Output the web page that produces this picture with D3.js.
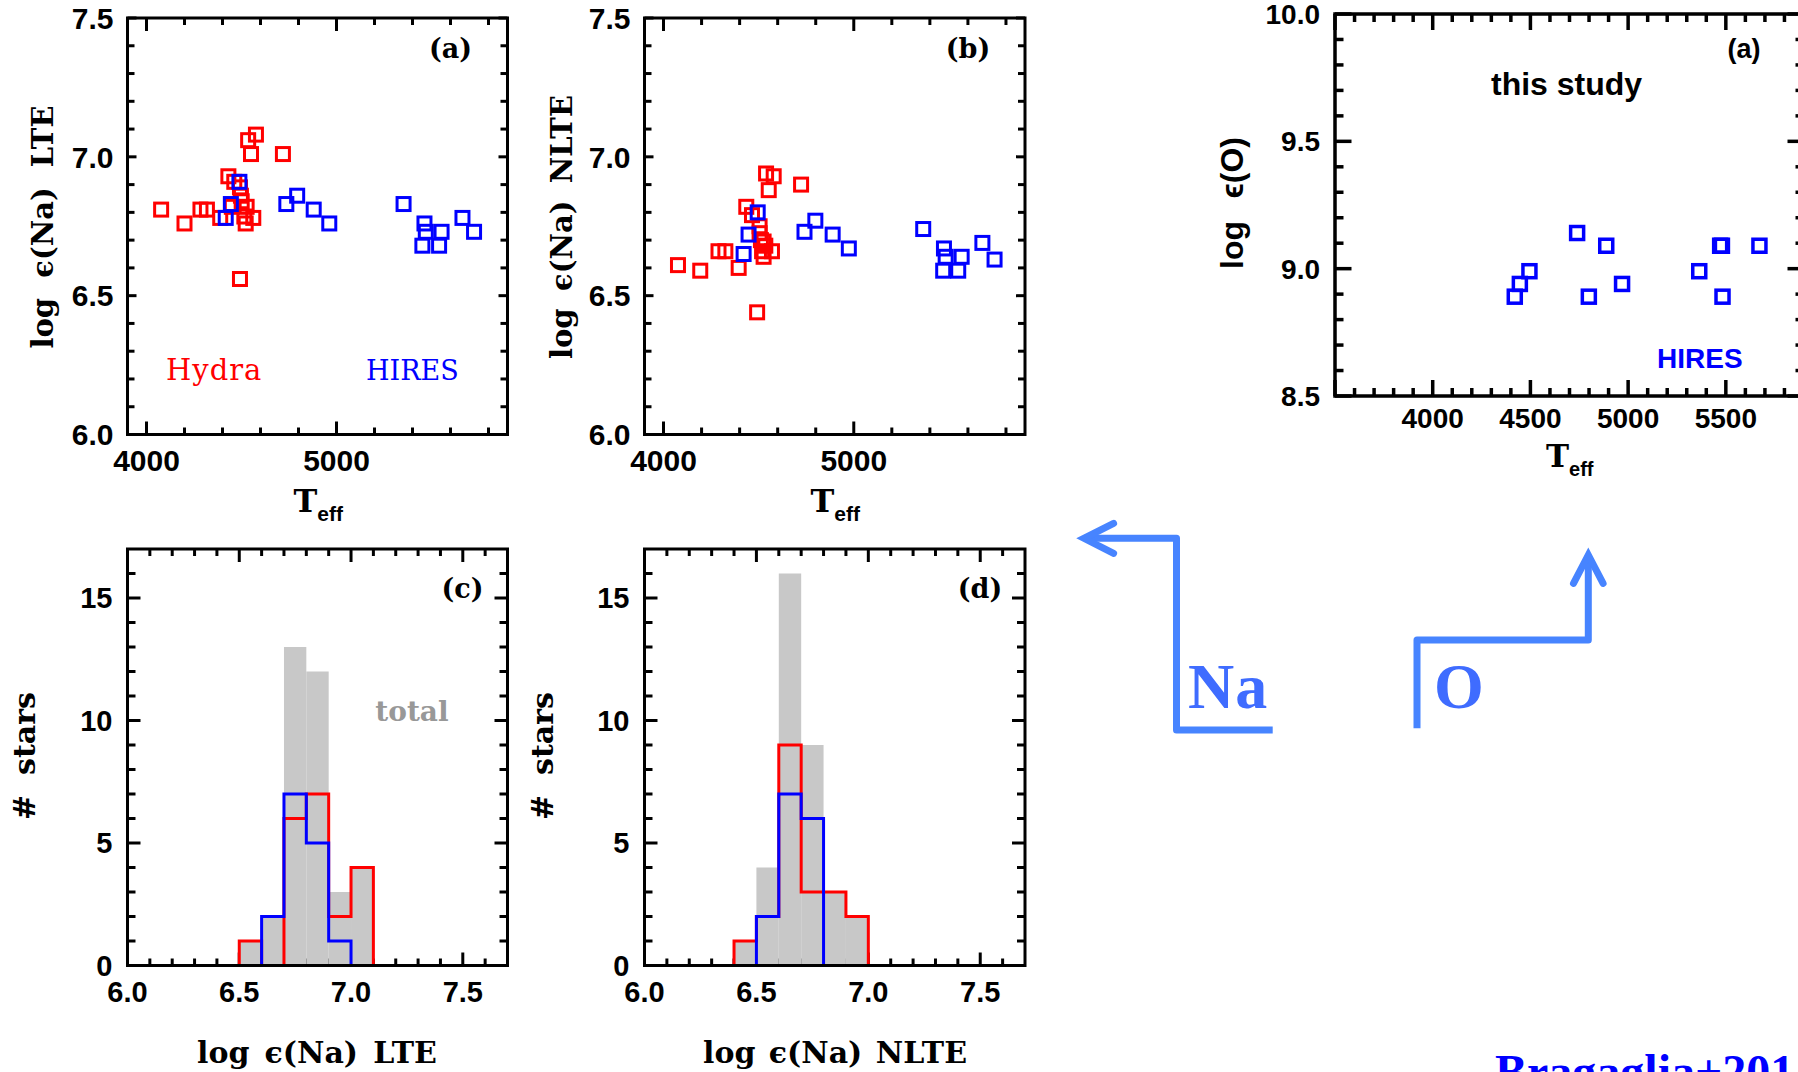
<!DOCTYPE html>
<html><head><meta charset="utf-8">
<script src="https://cdn.jsdelivr.net/npm/d3@7"></script>
<style>body{margin:0;background:#fff;} svg{display:block}</style>
</head><body>
<svg id="c" width="1798" height="1072"></svg>
<script>
// ---------------- DATA ----------------
const hydraTeffLTE = [4077,4200,4284,4318,4388,4431,4449,4462,4492,4497,4501,4527,4515,4522,4562,4492,4535,4576,4550,4718];
const hydraNaLTE   = [6.81,6.76,6.81,6.81,6.78,6.93,6.82,6.91,6.89,6.86,6.84,6.82,6.785,6.76,6.78,6.56,7.06,7.08,7.01,7.01];
const hiresTeffLTE = [4417,4444,4489,4736,4793,4880,4962,5353,5463,5470,5452,5540,5553,5663,5724];
const hiresNaLTE   = [6.78,6.83,6.91,6.83,6.86,6.81,6.76,6.83,6.76,6.73,6.68,6.68,6.73,6.78,6.73];

const hydraTeffNLTE = [4076,4193,4289,4325,4395,4435,4465,4505,4505,4526,4518,4570,4526,4535,4512,4492,4539,4579,4553,4723];
const hydraNaNLTE   = [6.61,6.59,6.66,6.66,6.60,6.82,6.79,6.75,6.725,6.695,6.66,6.66,6.64,6.68,6.70,6.44,6.94,6.93,6.88,6.90];
const hiresTeffNLTE = [4421,4447,4495,4741,4798,4889,4974,5365,5474,5483,5470,5567,5549,5676,5740];
const hiresNaNLTE   = [6.65,6.72,6.80,6.73,6.77,6.72,6.67,6.74,6.67,6.64,6.59,6.64,6.59,6.69,6.63];

const oxyTeff  = [4420,4446,4495,4739,4799,4888,4969,5364,5471,5480,5483,5672];
const oxyAbund = [8.89,8.94,8.99,9.14,8.89,9.09,8.94,8.99,9.09,9.09,8.89,9.09];

const binWidth = 0.1;
const binStartLTE   = [6.5,6.6,6.7,6.8,6.9,7.0];
const totalLTE      = [1,2,13,12,3,4];
const hydraCountLTE = [1,0,6,7,2,4];
const hiresCountLTE = [0,2,7,5,1,0];
const binStartNLTE   = [6.4,6.5,6.6,6.7,6.8,6.9];
const totalNLTE      = [1,4,16,9,3,2];
const hydraCountNLTE = [1,2,9,3,3,2];
const hiresCountNLTE = [0,2,7,6,0,0];

const teffMajorNa = [4000,5000];
const naMajor = [6.0,6.5,7.0,7.5];
const countMajor = [0,5,10,15];
const teffMajorO = [4000,4500,5000,5500];
const oMajor = [8.5,9.0,9.5,10.0];

// ---------------- STYLE ----------------
const SANS = "'Liberation Sans', Arial, sans-serif";
const DSERIF = "'DejaVu Serif', serif";
const TIMES = "'Liberation Serif', 'Times New Roman', serif";
const RED = "#ff0000", BLUE = "#0000ff", GRAY = "#c8c8c8";

const svg = d3.select('#c');
svg.append('rect').attr('width',1798).attr('height',1072).attr('fill','#fff');

const PA = {x0:127.5, x1:507.5, y0:18, y1:434.5};
const PB = {x0:644.5, x1:1025, y0:18, y1:434.5};
const PC = {x0:127.5, x1:507.5, y0:549, y1:965.5};
const PD = {x0:644.5, x1:1025, y0:549, y1:965.5};
const PO = {x0:1335, x1:1804, y0:14, y1:396};

function scales(P, xd, yd){
  return {x:d3.scaleLinear().domain(xd).range([P.x0,P.x1]),
          y:d3.scaleLinear().domain(yd).range([P.y1,P.y0])};
}

function drawTicks(g, s, P, o){
  const lines = [];
  o.xMinor.forEach(v=>{ lines.push([s.x(v),P.y1,s.x(v),P.y1-o.lxm]); lines.push([s.x(v),P.y0,s.x(v),P.y0+o.lxm]); });
  o.xMajor.forEach(v=>{ lines.push([s.x(v),P.y1,s.x(v),P.y1-o.lxM]); lines.push([s.x(v),P.y0,s.x(v),P.y0+o.lxM]); });
  o.yMinor.forEach(v=>{ lines.push([P.x0,s.y(v),P.x0+o.lym,s.y(v)]); lines.push([P.x1,s.y(v),P.x1-o.lym,s.y(v)]); });
  o.yMajor.forEach(v=>{ lines.push([P.x0,s.y(v),P.x0+o.lyM,s.y(v)]); lines.push([P.x1,s.y(v),P.x1-o.lyM,s.y(v)]); });
  g.append('g').selectAll('line').data(lines).join('line')
    .attr('x1',d=>d[0]).attr('y1',d=>d[1]).attr('x2',d=>d[2]).attr('y2',d=>d[3])
    .attr('stroke','#000').attr('stroke-width',o.sw);
}
function drawFrame(g,P,sw){
  g.append('rect').attr('x',P.x0).attr('y',P.y0).attr('width',P.x1-P.x0).attr('height',P.y1-P.y0)
   .attr('fill','none').attr('stroke','#000').attr('stroke-width',sw);
}
function drawLabels(g, s, P, o){
  g.append('g').selectAll('text').data(o.xLab).join('text')
    .attr('x',d=>s.x(d)).attr('y',P.y1+o.xOff).attr('text-anchor','middle')
    .attr('font-family',o.font).attr('font-weight','bold').attr('font-size',o.fs).text(o.fx);
  g.append('g').selectAll('text').data(o.yLab).join('text')
    .attr('x',P.x0-o.yOff).attr('y',d=>s.y(d)).attr('dy','0.36em').attr('text-anchor','end')
    .attr('font-family',o.font).attr('font-weight','bold').attr('font-size',o.fs).text(o.fy);
}
function fitText(t, target){
  const txt = t.text(); const n = (txt.match(/ /g)||[]).length;
  const w = t.node().getComputedTextLength();
  if(n>0) t.attr('word-spacing', ((target-w)/n).toFixed(2));
}
function vTitle(txt, cx, cy, len, font, fs, weight){
  const t = svg.append('text').attr('transform',`translate(${cx},${cy}) rotate(-90)`)
    .attr('text-anchor','middle').attr('dominant-baseline','central')
    .attr('font-family',font).attr('font-size',fs).attr('font-weight',weight).text(txt);
  fitText(t,len); return t;
}
function hTitle(txt, cx, by, len, font, fs, weight){
  const t = svg.append('text').attr('x',cx).attr('y',by).attr('text-anchor','middle')
    .attr('font-family',font).attr('font-size',fs).attr('font-weight',weight).text(txt);
  fitText(t,len); return t;
}
function teffTitle(x, by, fsT, fsE, fontT){
  const t = svg.append('text').attr('x',x).attr('y',by).attr('font-weight','bold');
  t.append('tspan').attr('font-family',fontT).attr('font-size',fsT).text('T');
  t.append('tspan').attr('font-family',SANS).attr('font-size',fsE).attr('dy',9).text('eff');
}

// ---------------- SCATTER PANELS (a),(b) ----------------
function scatterPanel(P, hydT, hydV, hirT, hirV, tag, ytitle, ycx, ylen){
  const g = svg.append('g');
  const s = scales(P,[3900,5900],[6.0,7.5]);
  drawTicks(g,s,P,{xMinor:d3.range(4000,5900,200).filter(v=>!teffMajorNa.includes(v)), xMajor:teffMajorNa,
    yMinor:d3.range(61,75).map(v=>v/10).filter(v=>Math.round(v*10)%5!==0), yMajor:naMajor,
    lxm:7, lxM:13, lym:7, lyM:9, sw:3});
  const sq = 13;
  g.append('g').selectAll('rect').data(d3.zip(hydT,hydV)).join('rect')
    .attr('x',d=>s.x(d[0])-sq/2).attr('y',d=>s.y(d[1])-sq/2).attr('width',sq).attr('height',sq)
    .attr('fill','none').attr('stroke',RED).attr('stroke-width',3);
  g.append('g').selectAll('rect').data(d3.zip(hirT,hirV)).join('rect')
    .attr('x',d=>s.x(d[0])-sq/2).attr('y',d=>s.y(d[1])-sq/2).attr('width',sq).attr('height',sq)
    .attr('fill','none').attr('stroke',BLUE).attr('stroke-width',3);
  drawFrame(g,P,3);
  drawLabels(g,s,P,{xLab:teffMajorNa, yLab:naMajor, fx:d=>d3.format('d')(d), fy:d=>d3.format('.1f')(d),
    xOff:36, yOff:14, font:SANS, fs:30});
  svg.append('text').attr('x',P.x1-57).attr('y',P.y0+40).attr('text-anchor','middle')
    .attr('font-family',DSERIF).attr('font-weight','bold').attr('font-size',27).text(tag);
  vTitle(ytitle, ycx, 227, ylen, DSERIF, 29, 'bold');
  teffTitle(P.x0+166, 512, 32, 21, DSERIF);
  return s;
}
scatterPanel(PA, hydraTeffLTE, hydraNaLTE, hiresTeffLTE, hiresNaLTE, '(a)', 'log ϵ(Na) LTE', 43, 243);
scatterPanel(PB, hydraTeffNLTE, hydraNaNLTE, hiresTeffNLTE, hiresNaNLTE, '(b)', 'log ϵ(Na) NLTE', 562, 264);
svg.append('text').attr('x',166).attr('y',380).attr('font-family',DSERIF).attr('font-size',29)
  .attr('letter-spacing',1).attr('fill',RED).text('Hydra');
svg.append('text').attr('x',366).attr('y',380).attr('font-family',DSERIF).attr('font-size',27).attr('fill',BLUE).text('HIRES');

// ---------------- HISTOGRAMS (c),(d) ----------------
function stepPoints(starts, counts){
  let i0 = counts.findIndex(c=>c>0), i1 = counts.length-1 - [...counts].reverse().findIndex(c=>c>0);
  const pts = [[starts[i0],0]];
  for(let i=i0;i<=i1;i++){ pts.push([starts[i],counts[i]]); pts.push([starts[i]+binWidth,counts[i]]); }
  pts.push([starts[i1]+binWidth,0]);
  return pts;
}
function histPanel(P, starts, tot, hyd, hir, tag, xtitle, xcx, xlen, ycx){
  const g = svg.append('g');
  const s = scales(P,[6.0,7.7],[0,17]);
  drawTicks(g,s,P,{xMinor:d3.range(61,77).map(v=>v/10).filter(v=>Math.round(v*10)%5!==0), xMajor:naMajor,
    yMinor:d3.range(1,17).filter(v=>v%5!==0), yMajor:countMajor, lxm:7, lxM:13, lym:8, lyM:13, sw:3});
  g.append('g').selectAll('rect').data(d3.zip(starts,tot)).join('rect')
    .attr('x',d=>s.x(d[0])).attr('width',d=>s.x(d[0]+binWidth)-s.x(d[0]))
    .attr('y',d=>s.y(d[1])).attr('height',d=>s.y(0)-s.y(d[1])).attr('fill',GRAY);
  const line = d3.line().x(d=>s.x(d[0])).y(d=>s.y(d[1]));
  g.append('path').attr('d',line(stepPoints(starts,hyd))).attr('fill','none').attr('stroke',RED).attr('stroke-width',3);
  g.append('path').attr('d',line(stepPoints(starts,hir))).attr('fill','none').attr('stroke',BLUE).attr('stroke-width',3);
  drawFrame(g,P,3);
  drawLabels(g,s,P,{xLab:naMajor, yLab:countMajor, fx:d=>d3.format('.1f')(d), fy:d=>d3.format('d')(d),
    xOff:36, yOff:15, font:SANS, fs:29});
  svg.append('text').attr('x',P.x1-45).attr('y',P.y0+49).attr('text-anchor','middle')
    .attr('font-family',DSERIF).attr('font-weight','bold').attr('font-size',27).text(tag);
  hTitle(xtitle, xcx, 1063, xlen, DSERIF, 30, 'bold');
  vTitle('# stars', ycx, 756, 128, DSERIF, 30, 'bold');
}
histPanel(PC, binStartLTE, totalLTE, hydraCountLTE, hiresCountLTE, '(c)', 'log ϵ(Na) LTE', 317, 240, 24);
histPanel(PD, binStartNLTE, totalNLTE, hydraCountNLTE, hiresCountNLTE, '(d)', 'log ϵ(Na) NLTE', 835, 264, 542);
svg.append('text').attr('x',412).attr('y',721).attr('text-anchor','middle').attr('font-family',DSERIF)
  .attr('font-weight','bold').attr('font-size',28).attr('fill','#989898').text('total');

// ---------------- OXYGEN PANEL ----------------
(function(){
  const P = PO, g = svg.append('g');
  const s = scales(P,[3500,5900],[8.5,10.0]);
  drawTicks(g,s,P,{xMinor:d3.range(3600,5900,100).filter(v=>v%500!==0), xMajor:d3.range(3500,5901,500),
    yMinor:d3.range(86,100).map(v=>v/10).filter(v=>Math.round(v*10)%5!==0), yMajor:oMajor,
    lxm:8, lxM:16, lym:8.5, lyM:16.5, sw:3.5});
  const sq = 13;
  g.append('g').selectAll('rect').data(d3.zip(oxyTeff,oxyAbund)).join('rect')
    .attr('x',d=>s.x(d[0])-sq/2).attr('y',d=>s.y(d[1])-sq/2).attr('width',sq).attr('height',sq)
    .attr('fill','none').attr('stroke',BLUE).attr('stroke-width',3.5);
  drawFrame(g,P,3.5);
  drawLabels(g,s,P,{xLab:teffMajorO, yLab:oMajor, fx:d=>d3.format('d')(d), fy:d=>d3.format('.1f')(d),
    xOff:32, yOff:15, font:SANS, fs:28});
  svg.append('text').attr('x',1744).attr('y',58).attr('text-anchor','middle').attr('font-family',SANS)
    .attr('font-weight','bold').attr('font-size',27).text('(a)');
  svg.append('text').attr('x',1491).attr('y',95).attr('font-family',SANS)
    .attr('font-weight','bold').attr('font-size',32).text('this study');
  svg.append('text').attr('x',1657).attr('y',368).attr('font-family',SANS)
    .attr('font-weight','bold').attr('font-size',28).attr('fill',BLUE).text('HIRES');
  vTitle('log ϵ(O)', 1232, 203, 132, SANS, 32, 'bold');
  teffTitle(1546, 467, 31, 20, DSERIF);
})();

// ---------------- ANNOTATIONS ----------------
const ARROW = "#4784ff", TXT = "#3f6cff";
const lineGen = d3.line();
// Na bracket-arrow
svg.append('path').attr('d', lineGen([[1272.7,730],[1176.5,730],[1176.5,538.3],[1084,538.3]]))
  .attr('fill','none').attr('stroke',ARROW).attr('stroke-width',7).attr('stroke-linejoin','round');
svg.append('path').attr('d', lineGen([[1113.6,523.3],[1084,538.3],[1113.6,553.3]]))
  .attr('fill','none').attr('stroke',ARROW).attr('stroke-width',7).attr('stroke-linejoin','miter').attr('stroke-linecap','round');
// O bracket-arrow
svg.append('path').attr('d', lineGen([[1417,728.3],[1417,640],[1588.3,640],[1588.3,555]]))
  .attr('fill','none').attr('stroke',ARROW).attr('stroke-width',7).attr('stroke-linejoin','round');
svg.append('path').attr('d', lineGen([[1573.5,583.3],[1588.3,555],[1603.1,583.3]]))
  .attr('fill','none').attr('stroke',ARROW).attr('stroke-width',7).attr('stroke-linejoin','miter').attr('stroke-linecap','round');
svg.append('text').attr('x',1188).attr('y',708).attr('font-family',TIMES).attr('font-weight','bold')
  .attr('font-size',64).attr('letter-spacing',1).attr('fill',TXT).text('Na');
svg.append('text').attr('x',1434).attr('y',708).attr('font-family',TIMES).attr('font-weight','bold')
  .attr('font-size',64).attr('fill',TXT).text('O');
svg.append('text').attr('x',1495).attr('y',1088).attr('font-family',TIMES).attr('font-weight','bold')
  .attr('font-size',48).attr('fill','#0000ff').text('Bragaglia+2014');
</script>
</body></html>
